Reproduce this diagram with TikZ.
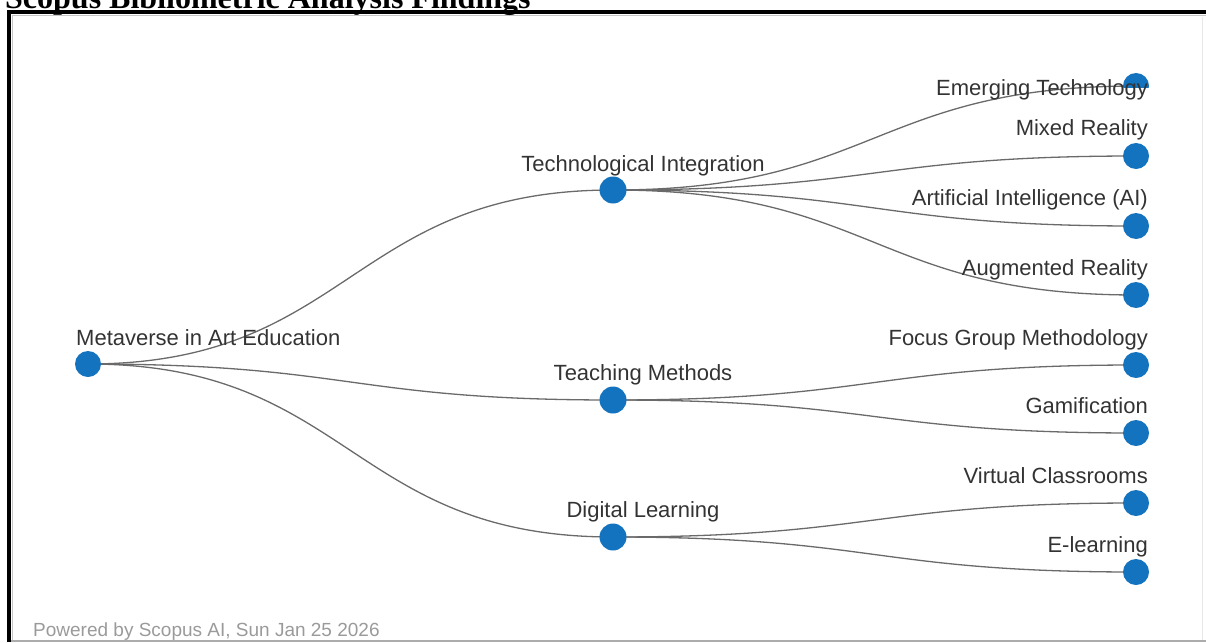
\documentclass[tikz,border=0pt]{standalone}
\usepackage{fontspec}
\setmainfont{Liberation Sans}
\newfontfamily\titlefont{Liberation Serif}
\usetikzlibrary{calc,backgrounds}

\definecolor{nodeblue}{HTML}{1473BE}
\definecolor{linkgray}{HTML}{6A6A6A}
\definecolor{labelgray}{HTML}{333333}
\definecolor{footgray}{HTML}{9A9A9A}

\tikzset{
  treenode/.style={circle, fill=nodeblue, draw=none, minimum size=26pt, inner sep=0pt},
  link/.style={draw=linkgray, line width=1.3pt},
  lbl/.style={inner sep=0pt, text=labelgray, font=\fontsize{22}{26}\selectfont},
}

% horizontal tree link: cubic curve with both control points at mid x
\newcommand\treelink[2]{%
  \draw[link] let \p1=(#1.center), \p2=(#2.center) in
    (#1.center) .. controls ({(\x1+\x2)/2},\y1) and ({(\x1+\x2)/2},\y2) .. (#2.center);}

\begin{document}
\begin{tikzpicture}[x=1pt, y=-1pt]
\useasboundingbox (0,0) rectangle (1206,642);

% page frame
\draw[black, line width=4pt] (9.3,642) -- (9.3,12) -- (1206,12);
\draw[gray!45, line width=1.5pt] (12.6,642) -- (12.6,15.5) -- (1206,15.5);
\draw[gray!65, line width=2pt] (11,641) -- (1206,641);
\draw[gray!18, line width=1pt] (1202,17) -- (1202,640);

% heading
\node[anchor=base west, inner sep=0pt, font=\titlefont\bfseries\fontsize{32}{36}\selectfont] (title) at (5,8.5) {Scopus Bibliometric Analysis Findings};

% tree nodes
\node[treenode] (root) at (88,364) {};
\node[treenode, minimum size=27pt] (tech) at (613,190) {};
\node[treenode, minimum size=27pt] (teach) at (613,400) {};
\node[treenode, minimum size=27pt] (digital) at (613,537) {};

% the top leaf sits under its own label; only its upper cap shows
\begin{scope}
  \clip (1110,60) rectangle (1160,87);
  \node[treenode] (emerging) at (1136,86) {};
\end{scope}
\node[treenode] (mixed) at (1136,156) {};
\node[treenode] (ai) at (1136,226) {};
\node[treenode] (ar) at (1136,295) {};
\node[treenode] (focus) at (1136,365) {};
\node[treenode] (gam) at (1136,433) {};
\node[treenode] (virtual) at (1136,503) {};
\node[treenode] (elearn) at (1136,572) {};

% links
\begin{scope}[on background layer]
  \treelink{root}{tech}
  \treelink{root}{teach}
  \treelink{root}{digital}
  \treelink{tech}{emerging}
  \treelink{tech}{mixed}
  \treelink{tech}{ai}
  \treelink{tech}{ar}
  \treelink{teach}{focus}
  \treelink{teach}{gam}
  \treelink{digital}{virtual}
  \treelink{digital}{elearn}
\end{scope}

% labels
\node[lbl, anchor=base west] (lroot) at (76,345) {Metaverse in Art Education};
\node[lbl, anchor=base] (ltech) at (643,171) {Technological Integration};
\node[lbl, anchor=base] (lteach) at (643,380) {Teaching Methods};
\node[lbl, anchor=base] (ldigital) at (643,517) {Digital Learning};

\node[lbl, anchor=base east] (lemerging) at (1148,95) {Emerging Technology};
\node[lbl, anchor=base east] (lmixed) at (1148,135.5) {Mixed Reality};
\node[lbl, anchor=base east] (lai) at (1148,205) {Artificial Intelligence (AI)};
\node[lbl, anchor=base east] (lar) at (1148,275) {Augmented Reality};
\node[lbl, anchor=base east] (lfocus) at (1148,345) {Focus Group Methodology};
\node[lbl, anchor=base east] (lgam) at (1148,413.5) {Gamification};
\node[lbl, anchor=base east] (lvirtual) at (1148,483) {Virtual Classrooms};
\node[lbl, anchor=base east] (lelearn) at (1148,552.5) {E-learning};

% footer
\node[anchor=base west, inner sep=0pt, text=footgray, font=\fontsize{19}{22}\selectfont] (footer) at (33,636) {Powered by Scopus AI, Sun Jan 25 2026};
\end{tikzpicture}
\end{document}
